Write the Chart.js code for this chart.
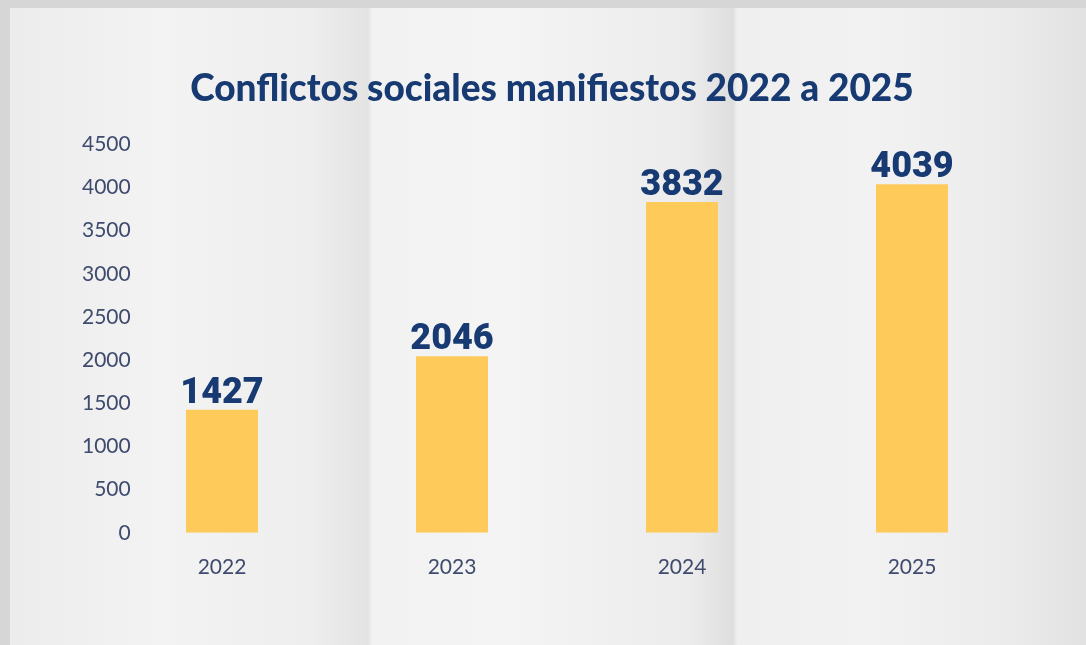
<!DOCTYPE html>
<html>
<head>
<meta charset="utf-8">
<script src="https://cdn.jsdelivr.net/npm/chart.js@4"></script>
<style>
  html, body { margin: 0; padding: 0; width: 1086px; height: 645px; overflow: hidden; background: #d6d6d6; }
  .panel {
    position: absolute; left: 10px; top: 8px; right: 0; bottom: 0;
    background: linear-gradient(90deg,
      #ececec 0px, #f3f3f3 150px, #eeeeee 300px, #e3e3e3 358px,
      #f2f2f2 362px, #f4f4f4 500px, #ececec 680px, #dedede 723px,
      #efefef 727px, #f2f2f2 860px, #ebebeb 1000px, #e2e2e2 1076px);
  }
  .wrap { position: absolute; left: 0; top: 0; width: 1086px; height: 645px; }
</style>
</head>
<body>
<div class="panel"></div>
<div class="wrap"><canvas id="conflictos"></canvas></div>
<script>
const anios = ['2022', '2023', '2024', '2025'];
const conflictos = [1427, 2046, 3832, 4039];
const pasoY = 500;
const maxY = 4500;

const etiquetas = {
  id: 'etiquetas',
  afterDatasetsDraw(chart) {
    const ctx = chart.ctx;
    const meta = chart.getDatasetMeta(0);
    ctx.save();
    ctx.font = '900 36px Roboto';
    ctx.fillStyle = '#173a73';
    ctx.textAlign = 'center';
    ctx.textBaseline = 'alphabetic';
    meta.data.forEach((bar, i) => {
      ctx.fillText(conflictos[i], bar.x, bar.y - 7);
    });
    ctx.restore();
  }
};

const grafico = document.getElementById('conflictos');
new Chart(grafico, {
  type: 'bar',
  data: {
    labels: anios,
    datasets: [{
      label: 'Conflictos sociales',
      data: conflictos,
      backgroundColor: '#fecb5b',
      borderWidth: 0,
      barPercentage: 0.313,
      categoryPercentage: 1
    }]
  },
  options: {
    responsive: true,
    maintainAspectRatio: false,
    animation: false,
    layout: {
      padding: { left: 77, right: 59, top: 0, bottom: 43 }
    },
    plugins: {
      legend: { display: false },
      tooltip: { enabled: false },
      title: {
        display: true,
        text: 'Conflictos sociales manifiestos 2022 a 2025',
        color: '#173a73',
        font: { family: 'Lato', size: 37, weight: 900 },
        padding: { top: 67, bottom: 33 }
      }
    },
    scales: {
      x: {
        grid: { display: false, drawTicks: false },
        border: { display: false },
        ticks: {
          color: '#3f4b6e',
          font: { family: 'Lato', size: 21 },
          padding: 22
        }
      },
      y: {
        min: 0,
        max: maxY,
        afterFit(scale) { scale.width = 30; },
        grid: { display: false, drawTicks: false },
        border: { display: false },
        ticks: {
          stepSize: pasoY,
          callback: v => String(v),
          mirror: true,
          crossAlign: 'far',
          color: '#3f4b6e',
          font: { family: 'Lato', size: 21 },
          padding: -25
        }
      }
    }
  },
  plugins: [etiquetas]
});
</script>
</body>
</html>
